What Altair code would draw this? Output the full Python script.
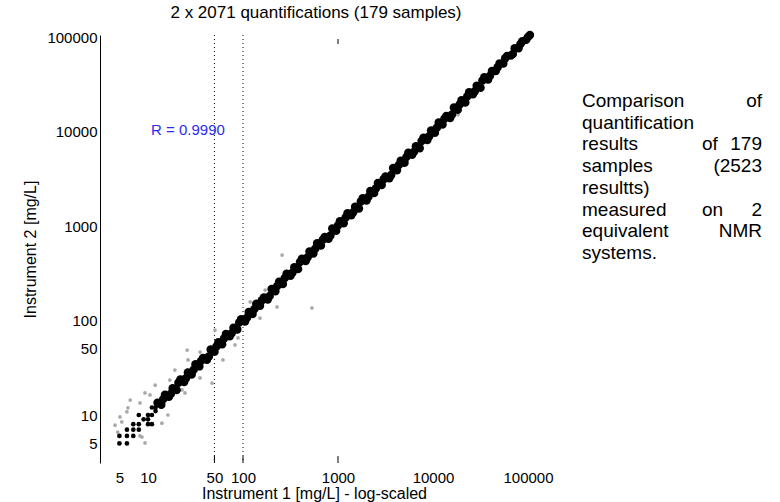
import altair as alt
import pandas as pd

# ---------------- data ----------------
band_x = [12.6, 13.8, 15.1, 16.6, 18.2, 20.0, 21.9, 24.0, 26.3, 28.8,
          31.6, 34.7, 38.0, 41.7, 45.7, 50.1, 55.0, 60.3, 66.1, 72.4,
          79.4, 87.1, 95.5, 105, 115, 126, 138, 151, 166, 182,
          200, 219, 240, 263, 288, 316, 347, 380, 417, 457,
          501, 550, 603, 661, 724, 794, 871, 955, 1047, 1148,
          1259, 1380, 1514, 1660, 1820, 1995, 2188, 2399, 2630, 2884,
          3162, 3467, 3802, 4169, 4571, 5012, 5495, 6026, 6607, 7244,
          7943, 8710, 9550, 10470, 11480, 12590, 13800, 15140, 16600, 18200,
          19950, 21880, 23990, 26300, 28840, 31620, 34670, 38020, 41690, 45710,
          50120, 54950, 60260, 66070, 72440, 79430, 87100, 95500, 104700]
band_y = [13.5, 12.8, 16.4, 15.6, 19.2, 18.4, 23.7, 22.4, 28.2, 26.8,
          34.4, 32.7, 40.2, 38.4, 49.4, 46.8, 58.9, 56.0, 71.8, 68.2,
          83.9, 80.2, 103, 97.7, 123, 117, 150, 143, 175, 167,
          216, 204, 257, 244, 313, 298, 366, 350, 451, 427,
          537, 511, 655, 622, 766, 731, 942, 891, 1122, 1067,
          1368, 1300, 1600, 1528, 1968, 1862, 2344, 2228, 2858, 2716,
          3342, 3192, 4111, 3890, 4898, 4656, 5970, 5675, 6982, 6668,
          8590, 8128, 10230, 9727, 12470, 11860, 14590, 13930, 17950, 16980,
          21380, 20320, 26060, 24770, 30480, 29110, 37500, 35480, 43650, 43650,
          52480, 52480, 63100, 63830, 75860, 75860, 90160, 93330, 104700]

mid_x = [14.5, 17.4, 20.9, 25.1, 30.2, 36.3, 43.7, 52.5, 63.1, 75.9,
         91.2, 110, 132, 158, 191, 229, 275, 331, 398, 479,
         575, 692, 832, 1000, 1202, 1445, 1738, 2089, 2512, 3020,
         3631, 4365, 5248, 6310, 7586, 9120, 10960, 13180, 15850, 19050,
         22910, 27540, 33110, 39810, 47860, 57540, 69180, 83180, 100000]
mid_y = [14.8, 16.8, 21.9, 24.5, 30.2, 37.6, 41.7, 53.1, 64.6, 73.3,
         95.5, 107, 132, 164, 182, 232, 282, 320, 417, 468,
         575, 716, 794, 1012, 1230, 1396, 1820, 2042, 2512, 3126,
         3467, 4416, 5370, 6095, 7943, 8913, 10960, 13650, 15140, 19280,
         23440, 26610, 34670, 38900, 47860, 59570, 66070, 84140, 100000]

low_x = [5, 6, 5, 6, 7, 6, 7, 8, 7, 8, 10, 11, 9, 10, 8, 10, 11, 12, 11, 12]
low_y = [5, 5, 6, 6, 6, 7, 7, 7, 8, 8, 8, 8, 9, 9, 10, 10, 10, 11, 12, 12]

gray_x = [25.8, 26.4, 35.3, 35.3, 47.2, 61.5, 82.4, 88.6, 151, 228, 119, 24.5, 22.8,
          5.07, 5.3, 6.0, 6.15, 8.24, 9.3, 10.5, 11.9, 16.2, 14.0, 8.65, 9.3, 8.24,
          532, 258, 18300, 4.5, 4.8, 6.5, 17, 19.2, 50.7, 171]
gray_y = [48.7, 38.2, 46.4, 24.7, 21.8, 38.2, 55.1, 65.3, 106, 139, 157, 17.1, 18.4,
          9.53, 8.44, 10.8, 11.9, 13.4, 17.1, 16.3, 20.7, 10, 8.2, 5.85, 5.06, 6.0,
          136, 493, 15000, 7.8, 6.6, 14.4, 23.4, 29.9, 79.3, 210]

ref_lines = [50, 100]
bottom_ticks = [50, 100, 1000]
top_ticks = [1000]
tick_values = [5, 10, 50, 100, 1000, 10000, 100000]

title_text = "2 x 2071 quantifications (179 samples)"
x_title = "Instrument 1 [mg/L] - log-scaled"
y_title = "Instrument 2 [mg/L]"
r_label = "R = 0.9990"
note_lines = [
    ["Comparison", "of"],
    ["quantification"],
    ["results", "of", "179"],
    ["samples", "(2523"],
    ["resultts)"],
    ["measured", "on", "2"],
    ["equivalent", "NMR"],
    ["systems."],
]

# ---------------- chart ----------------
FONT = "Liberation Sans"
W, H = 440, 428

xscale = alt.Scale(type="log", domain=[3.124, 133700], nice=False)
yscale = alt.Scale(type="log", domain=[3.105, 105000], nice=False)

x_axis = alt.Axis(values=tick_values, format="d", domain=False, ticks=False, grid=False,
                  labelFont=FONT, labelFontSize=15, labelColor="black", labelPadding=7,
                  labelOverlap=False, labelFlush=False,
                  title=x_title, titleFont=FONT, titleFontSize=16, titleFontWeight="normal",
                  titleColor="black", titleX=214, titleY=30, titleBaseline="middle")
y_axis = alt.Axis(values=tick_values, format="d", domain=True, domainColor="black",
                  domainWidth=1, ticks=False, grid=False,
                  labelFont=FONT, labelFontSize=15, labelColor="black", labelPadding=3,
                  labelOverlap=False, labelFlush=False,
                  title=y_title, titleFont=FONT, titleFontSize=16, titleFontWeight="normal",
                  titleColor="black", titleX=-70, titleY=214, titleBaseline="middle",
                  titleAngle=270)

df_band = pd.DataFrame({"x": band_x + mid_x, "y": band_y + mid_y})
df_low = pd.DataFrame({"x": low_x, "y": low_y})
df_gray = pd.DataFrame({"x": gray_x, "y": gray_y})

base_x = alt.X("x:Q", scale=xscale, axis=x_axis)
base_y = alt.Y("y:Q", scale=yscale, axis=y_axis)

vlines = alt.Chart(pd.DataFrame({"x": ref_lines})).mark_rule(
    color="black", strokeWidth=1, strokeDash=[1, 3]
).encode(x=base_x)

bticks = alt.Chart(pd.DataFrame({"x": bottom_ticks})).mark_rule(
    color="black", strokeWidth=1
).encode(x=base_x, y=alt.value(H - 7), y2=alt.value(H))

tticks = alt.Chart(pd.DataFrame({"x": top_ticks})).mark_rule(
    color="black", strokeWidth=1
).encode(x=base_x, y=alt.value(4), y2=alt.value(9))

gray = alt.Chart(df_gray).mark_circle(size=14, color="#a9a9a9", opacity=1).encode(
    x=base_x, y=base_y)

low = alt.Chart(df_low).mark_circle(size=22, color="black", opacity=1).encode(
    x=base_x, y=base_y)

band = alt.Chart(df_band).mark_circle(size=72, color="black", opacity=1).encode(
    x=base_x, y=base_y)

rtext = alt.Chart(pd.DataFrame({"t": [r_label]})).mark_text(
    font=FONT, fontSize=15, color="#2b2bf2", align="center", baseline="middle"
).encode(x=alt.value(88), y=alt.value(95), text="t:N")

# justified paragraph on the right
note_layers = []
left_x, right_x, middle_x = 482, 662, 602
for i, words in enumerate(note_lines):
    yb = 72 + 21.7 * i
    for j, w in enumerate(words):
        if j == 0:
            xpos, al = left_x, "left"
        elif j == len(words) - 1:
            xpos, al = right_x, "right"
        else:
            xpos, al = middle_x, "left"
        note_layers.append(
            alt.Chart(pd.DataFrame({"t": [w]})).mark_text(
                font=FONT, fontSize=19, color="black", align=al, baseline="alphabetic"
            ).encode(x=alt.value(xpos), y=alt.value(yb), text="t:N")
        )

chart = alt.layer(vlines, bticks, tticks, gray, low, band, rtext, *note_layers).properties(
    width=W, height=H,
    autosize="none",
    padding={"left": 100, "top": 35, "right": 240, "bottom": 39},
    title=alt.TitleParams(text=title_text, font=FONT, fontSize=17, fontWeight="normal",
                          color="black", anchor="middle", dx=-4, offset=8),
    background="white",
).configure_view(stroke=None)

chart.save("out.html", embed_options={"renderer": "svg", "actions": False})
